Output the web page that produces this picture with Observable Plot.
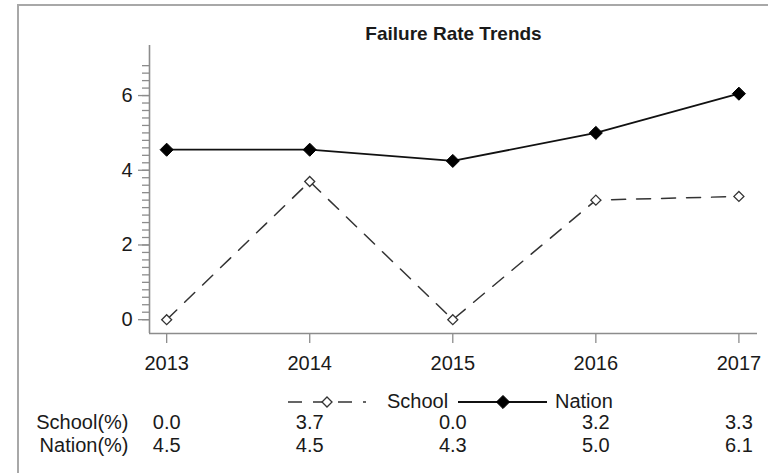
<!DOCTYPE html>
<html>
<head>
<meta charset="utf-8">
<script src="https://cdn.jsdelivr.net/npm/d3@7"></script>
<script src="https://cdn.jsdelivr.net/npm/@observablehq/plot@0.6"></script>
<style>
  html, body { margin: 0; padding: 0; background: #fff; }
  #chart { position: relative; width: 768px; height: 473px; overflow: hidden; }
</style>
</head>
<body>
<div id="chart"></div>
<script>
// ---- data ----
const years = [2013, 2014, 2015, 2016, 2017];
const school = [0.0, 3.7, 0.0, 3.2, 3.3];
const nation = [4.55, 4.55, 4.25, 5.0, 6.05];
const schoolLabels = ["0.0", "3.7", "0.0", "3.2", "3.3"];
const nationLabels = ["4.5", "4.5", "4.3", "5.0", "6.1"];
const yTicks = [0, 2, 4, 6];
const yMinor = [0, 0.2, 0.4, 0.6, 0.8, 1, 1.2, 1.4, 1.6, 1.8, 2, 2.2, 2.4, 2.6, 2.8, 3, 3.2, 3.4, 3.6, 3.8, 4, 4.2, 4.4, 4.6, 4.8, 5, 5.2, 5.4, 5.6, 5.8, 6, 6.2, 6.4, 6.6, 6.8];
const xDomain = [2012.88, 2017.13];
const yDomain = [-0.37, 7.34];
const title = "Failure Rate Trends";
const seriesNames = ["School", "Nation"];
const rowLabels = ["School(%)", "Nation(%)"];

const schoolData = years.map((x, i) => ({x, y: school[i]}));
const nationData = years.map((x, i) => ({x, y: nation[i]}));

const FONT = "'Liberation Sans', Arial, sans-serif";
const AXIS = "#8c8c8c";
const TEXT = "#1a1a1a";

const plot = Plot.plot({
  width: 768,
  height: 473,
  marginTop: 45,
  marginBottom: 140,
  marginLeft: 149,
  marginRight: 11,
  style: {fontFamily: FONT, fontSize: "20px", color: TEXT, background: "#fff", overflow: "visible"},
  x: {domain: xDomain, axis: null},
  y: {domain: yDomain, axis: null},
  marks: [
    Plot.axisY(yMinor, {tickSize: 7, tickFormat: () => "", label: null, stroke: AXIS, strokeWidth: 1.3}),
    Plot.axisY(yTicks, {tickSize: 11, tickPadding: 6, label: null, stroke: AXIS, fill: TEXT, strokeWidth: 1.3, fontSize: 20}),
    Plot.axisX(years, {tickSize: 10, tickPadding: 12, tickFormat: "d", label: null, stroke: AXIS, fill: TEXT, strokeWidth: 1.3, fontSize: 20}),
    Plot.ruleX([xDomain[0]], {stroke: AXIS, strokeWidth: 1.6}),
    Plot.ruleY([yDomain[0]], {stroke: AXIS, strokeWidth: 1.6}),
    Plot.line(schoolData, {x: "x", y: "y", stroke: "#333", strokeWidth: 1.5, strokeDasharray: "14,11"}),
    Plot.line(nationData, {x: "x", y: "y", stroke: "#111", strokeWidth: 1.8}),
    Plot.dot(schoolData, {x: "x", y: "y", symbol: "diamond2", r: 4.5, fill: "#fff", stroke: "#333", strokeWidth: 1.3}),
    Plot.dot(nationData, {x: "x", y: "y", symbol: "diamond2", r: 5.9, fill: "#000", stroke: "#000", strokeWidth: 1}),
    Plot.text([title], {frameAnchor: "top", dy: -19, text: d => d, fontWeight: "bold", fontSize: 19, fill: TEXT}),
    Plot.text(years, {x: d => d, frameAnchor: "bottom", dy: 95, text: (d, i) => schoolLabels[i], fontSize: 20, fill: TEXT}),
    Plot.text(years, {x: d => d, frameAnchor: "bottom", dy: 118, text: (d, i) => nationLabels[i], fontSize: 20, fill: TEXT}),
    Plot.text([rowLabels[0]], {frameAnchor: "bottom-left", dx: -21, dy: 95, textAnchor: "end", text: d => d, fontSize: 20, fill: TEXT}),
    Plot.text([rowLabels[1]], {frameAnchor: "bottom-left", dx: -21, dy: 118, textAnchor: "end", text: d => d, fontSize: 20, fill: TEXT})
  ]
});

document.getElementById("chart").appendChild(plot);

// ---- outer frame and legend ----
const svg = d3.select(plot);
svg.append("path")
  .attr("d", "M18,480V5H780")
  .attr("fill", "none")
  .attr("stroke", "#a8a8a8")
  .attr("stroke-width", 2);

const lg = svg.append("g").attr("transform", "translate(0,402)").attr("text-anchor", "start");
lg.append("line").attr("x1", 288).attr("x2", 366).attr("y1", 0).attr("y2", 0)
  .attr("stroke", "#333").attr("stroke-width", 1.5).attr("stroke-dasharray", "14,11");
lg.append("path").attr("d", d3.symbol(d3.symbolDiamond2, Math.PI * 4.5 * 4.5)())
  .attr("transform", "translate(327,0)")
  .attr("fill", "#fff").attr("stroke", "#333").attr("stroke-width", 1.3);
lg.append("text").attr("x", 387).attr("y", 0).attr("dy", "0.32em").attr("text-anchor", "start")
  .attr("font-family", FONT).attr("font-size", 20).attr("fill", TEXT).text(seriesNames[0]);
lg.append("line").attr("x1", 458).attr("x2", 547).attr("y1", 0).attr("y2", 0)
  .attr("stroke", "#111").attr("stroke-width", 1.8);
lg.append("path").attr("d", d3.symbol(d3.symbolDiamond2, Math.PI * 5.9 * 5.9)())
  .attr("transform", "translate(503,0)")
  .attr("fill", "#000").attr("stroke", "#000");
lg.append("text").attr("x", 555).attr("y", 0).attr("dy", "0.32em").attr("text-anchor", "start")
  .attr("font-family", FONT).attr("font-size", 20).attr("fill", TEXT).text(seriesNames[1]);
</script>
</body>
</html>
